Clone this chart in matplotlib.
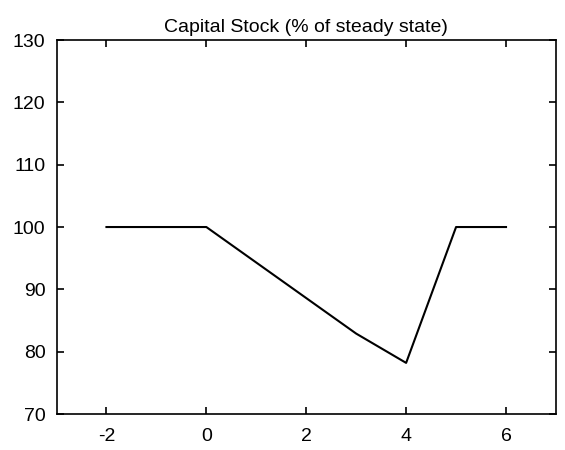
import numpy as np
import matplotlib.pyplot as plt

plt.rcParams['font.family'] = ['Liberation Sans', 'DejaVu Sans']
plt.rcParams['axes.unicode_minus'] = False

periods = [-2, -1, 0, 1, 2, 3, 4, 5, 6]
capital = [100, 100, 100, 94.3, 88.6, 82.9, 78.2, 100, 100]

fig = plt.figure(figsize=(5.65, 4.5), dpi=100)
ax = fig.add_axes([0.1, 0.08, 0.884, 0.831])
ax.plot(periods, capital, color='black', linewidth=1.5)

ax.set_xlim(-3, 7)
ax.set_ylim(70, 130)
ax.set_xticks([-2, 0, 2, 4, 6])
ax.set_yticks([70, 80, 90, 100, 110, 120, 130])
ax.tick_params(direction='in', top=True, right=True, labelsize=14, length=5, width=1.2, pad=8)
ax.tick_params(axis='x', pad=10)
for s in ax.spines.values():
    s.set_linewidth(1.2)
ax.set_title('Capital Stock (% of steady state)', fontsize=14, pad=6)

fig.savefig('out.png', dpi=100)
